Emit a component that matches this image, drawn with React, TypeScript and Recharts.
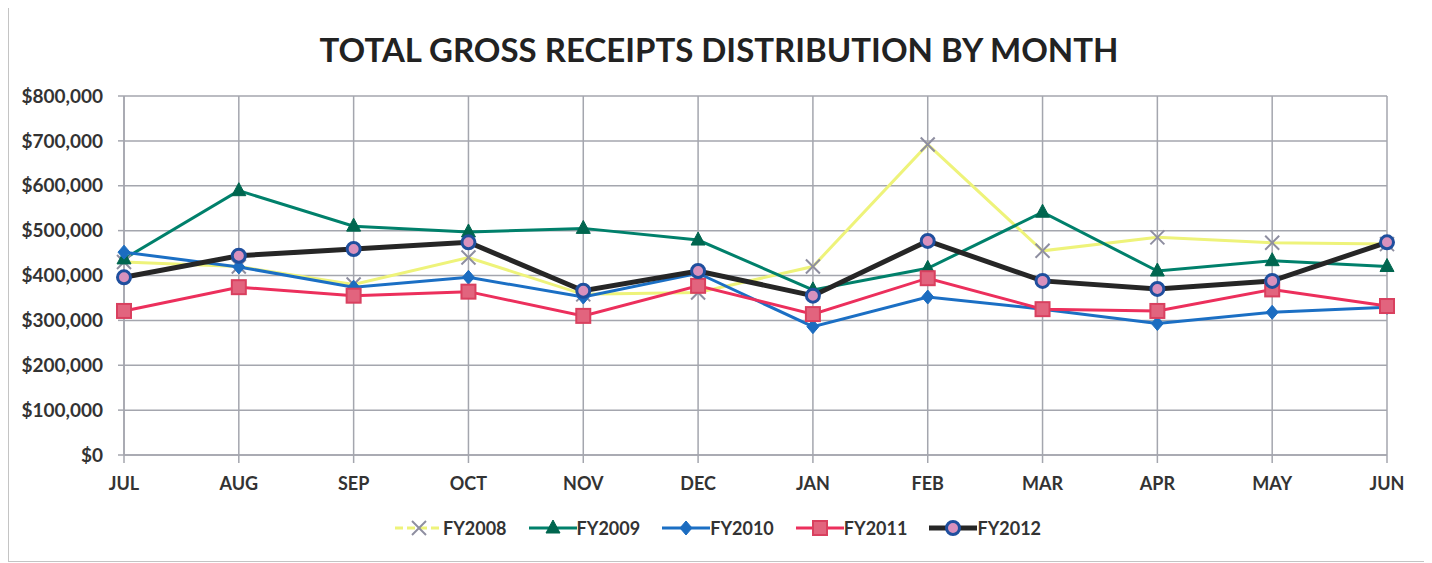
import React from "react";
import { LineChart, Line, XAxis, YAxis, CartesianGrid, Legend } from "recharts";

const months = ["JUL", "AUG", "SEP", "OCT", "NOV", "DEC", "JAN", "FEB", "MAR", "APR", "MAY", "JUN"];
const fy2008 = [430000, 420000, 380000, 440000, 358000, 362000, 420000, 692000, 455000, 485000, 473000, 470000];
const fy2009 = [437000, 589000, 510000, 497000, 505000, 479000, 368000, 416000, 541000, 410000, 433000, 420000];
const fy2010 = [452000, 419000, 374000, 396000, 352000, 405000, 286000, 352000, 325000, 293000, 318000, 329000];
const fy2011 = [321000, 374000, 355000, 364000, 310000, 377000, 314000, 394000, 325000, 321000, 369000, 332000];
const fy2012 = [396000, 444000, 459000, 474000, 366000, 410000, 355000, 477000, 388000, 370000, 388000, 474000];
const yTicks = [0, 100000, 200000, 300000, 400000, 500000, 600000, 700000, 800000];

const data = months.map((m, i) => ({
  month: m,
  FY2008: fy2008[i],
  FY2009: fy2009[i],
  FY2010: fy2010[i],
  FY2011: fy2011[i],
  FY2012: fy2012[i],
}));

const FONT = "Lato, 'Open Sans', sans-serif";
const TEXT = "#333333";
const GRID = "#a4a6ae";

const series = [
  { key: "FY2008", color: "#eef37a", width: 3, marker: "x" },
  { key: "FY2009", color: "#00806b", width: 3, marker: "tri" },
  { key: "FY2010", color: "#1b6fc4", width: 3, marker: "dia" },
  { key: "FY2011", color: "#ec2f5c", width: 3, marker: "sq" },
  { key: "FY2012", color: "#262626", width: 5, marker: "circ" },
];

function Marker({ type, cx, cy }: { type: string; cx: number; cy: number }) {
  if (cx == null || cy == null) return null;
  switch (type) {
    case "x":
      return (
        <g stroke="#8e8ea0" strokeWidth={2}>
          <line x1={cx - 7} y1={cy - 7} x2={cx + 7} y2={cy + 7} />
          <line x1={cx - 7} y1={cy + 7} x2={cx + 7} y2={cy - 7} />
        </g>
      );
    case "tri":
      return (
        <polygon
          points={`${cx},${cy - 8} ${cx + 7},${cy + 5} ${cx - 7},${cy + 5}`}
          fill="#00664f"
          stroke="#00664f"
          strokeWidth={1}
        />
      );
    case "dia":
      return (
        <polygon
          points={`${cx},${cy - 7} ${cx + 6},${cy} ${cx},${cy + 7} ${cx - 6},${cy}`}
          fill="#1b6cc0"
          stroke="#1b6cc0"
          strokeWidth={1}
        />
      );
    case "sq":
      return <rect x={cx - 7} y={cy - 7} width={14} height={14} fill="#e2647e" stroke="#d9405f" strokeWidth={2} />;
    case "circ":
      return <circle cx={cx} cy={cy} r={6.5} fill="#d991bd" stroke="#1f4f9e" strokeWidth={3} />;
    default:
      return null;
  }
}

function renderLegend() {
  return (
    <div
      style={{
        display: "flex",
        justifyContent: "center",
        alignItems: "center",
        gap: 22,
        fontFamily: FONT,
        fontWeight: 700,
        fontSize: 18,
        color: TEXT,
        height: 46,
      }}
    >
      {series.map((s) => (
        <div key={s.key} style={{ display: "flex", alignItems: "center" }}>
          <svg width={48} height={20}>
            <line
              x1={0}
              y1={10}
              x2={48}
              y2={10}
              stroke={s.color}
              strokeWidth={s.width}
              strokeDasharray={s.key === "FY2008" ? "8 4" : undefined}
            />
            <Marker type={s.marker} cx={24} cy={10} />
          </svg>
          <span>{s.key}</span>
        </div>
      ))}
    </div>
  );
}

const fmt = (v: number) => "$" + v.toLocaleString("en-US");

export default function App() {
  return (
    <div
      style={{
        position: "relative",
        width: 1420,
        height: 556,
        marginTop: -2,
        border: "1px solid #c4c4c4",
        boxSizing: "border-box",
        background: "#ffffff",
      }}
    >
      <div
        style={{
          position: "absolute",
          top: 24,
          left: 0,
          width: 1420,
          textAlign: "center",
          fontFamily: FONT,
          fontWeight: 700,
          fontSize: 33,
          color: "#222222",
          lineHeight: "36px",
        }}
      >
        TOTAL GROSS RECEIPTS DISTRIBUTION BY MONTH
      </div>
      <LineChart
        width={1418}
        height={554}
        data={data}
        margin={{ top: 89, right: 40, left: 0, bottom: 10 }}
      >
        <CartesianGrid stroke={GRID} strokeWidth={1.5} vertical={true} horizontal={true} />
        <XAxis
          dataKey="month"
          axisLine={{ stroke: GRID, strokeWidth: 1.5 }}
          tickLine={{ stroke: GRID, strokeWidth: 1.5 }}
          tickSize={8}
          tickMargin={14}
          height={50}
          interval={0}
          tick={{ fill: TEXT, fontFamily: FONT, fontWeight: 700, fontSize: 18 }}
        />
        <YAxis
          width={115}
          domain={[0, 800000]}
          ticks={yTicks}
          tickFormatter={fmt}
          axisLine={{ stroke: GRID, strokeWidth: 1.5 }}
          tickLine={{ stroke: GRID, strokeWidth: 1.5 }}
          tickSize={6}
          tickMargin={15}
          tick={{ fill: TEXT, fontFamily: FONT, fontWeight: 700, fontSize: 19 }}
        />
        <Legend
          verticalAlign="bottom"
          height={46}
          content={renderLegend}
          wrapperStyle={{ left: 0, width: 1418 }}
        />
        {series.map((s) => (
          <Line
            key={s.key}
            type="linear"
            dataKey={s.key}
            stroke={s.color}
            strokeWidth={s.width}
            isAnimationActive={false}
            dot={(p: any) => <Marker key={`${s.key}-${p.index}`} type={s.marker} cx={p.cx} cy={p.cy} />}
            activeDot={false}
          />
        ))}
      </LineChart>
    </div>
  );
}
